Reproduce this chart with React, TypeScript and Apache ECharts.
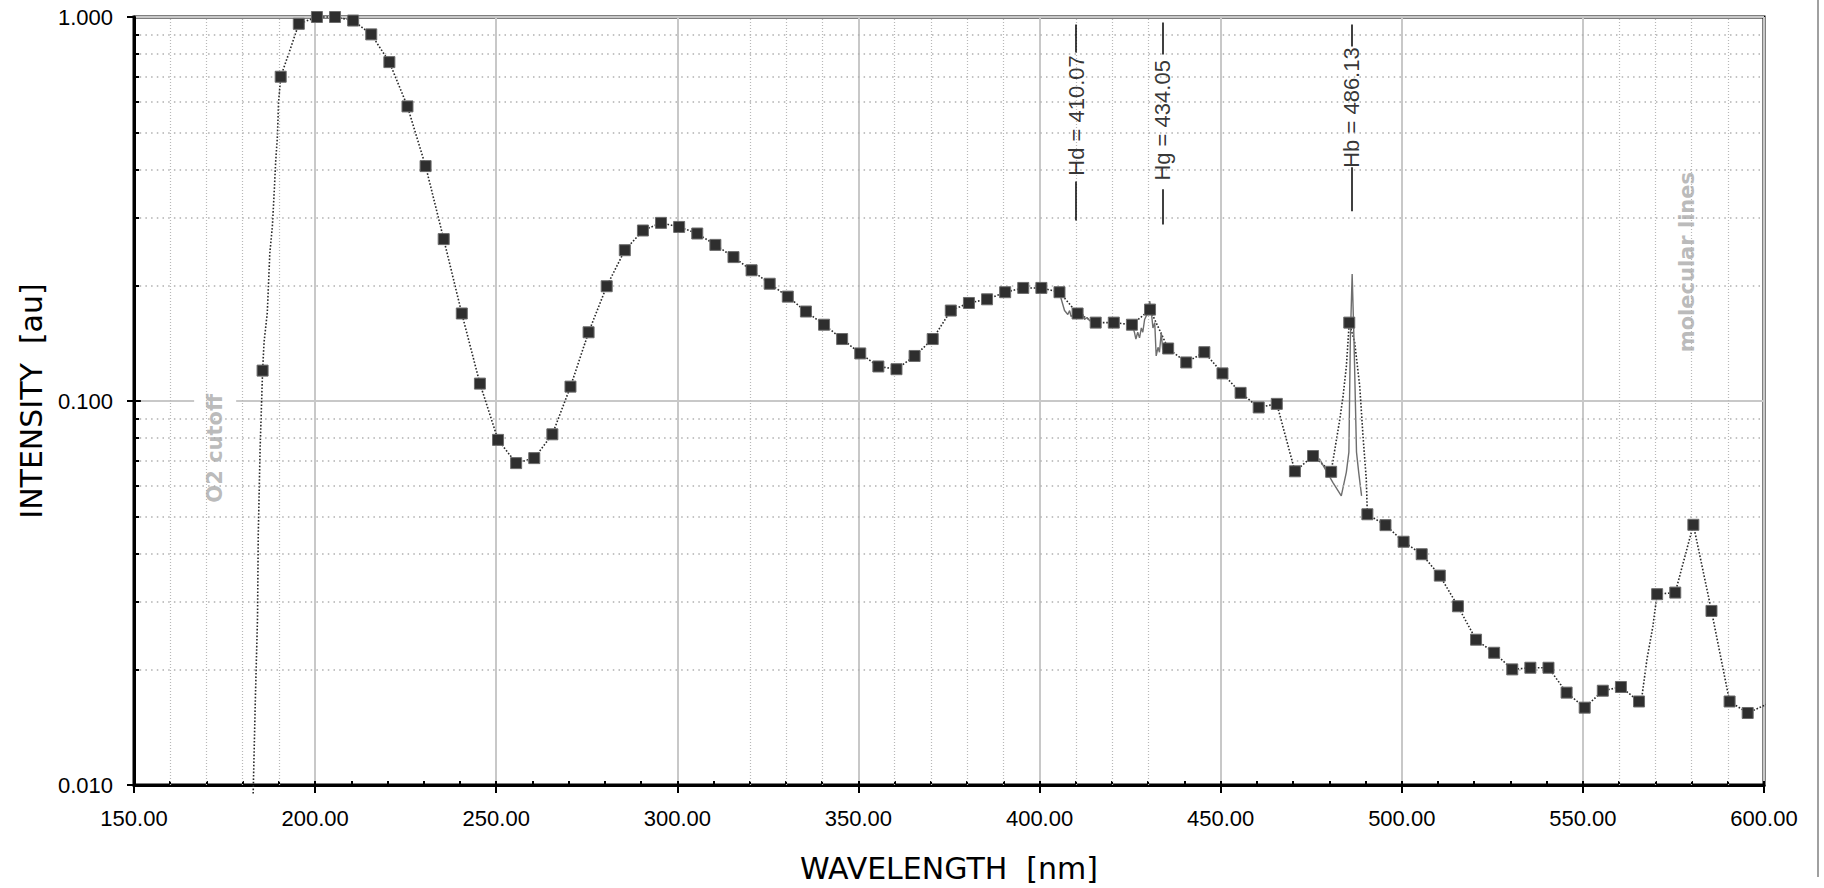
import React, { useEffect, useRef } from "react";
import * as echarts from "echarts";

// 5 nm bin values (square markers)
const binWavelengths = [
  185.5, 190.5, 195.5, 200.5, 205.5, 210.5, 215.5, 220.5, 225.5, 230.5,
  235.5, 240.5, 245.5, 250.5, 255.5, 260.5, 265.5, 270.5, 275.5, 280.5,
  285.5, 290.5, 295.5, 300.5, 305.5, 310.5, 315.5, 320.5, 325.5, 330.5,
  335.5, 340.5, 345.5, 350.5, 355.5, 360.5, 365.5, 370.5, 375.5, 380.5,
  385.5, 390.5, 395.5, 400.5, 405.5, 410.5, 415.5, 420.5, 425.5, 430.5,
  435.5, 440.5, 445.5, 450.5, 455.5, 460.5, 465.5, 470.5, 475.5, 480.5,
  485.5, 490.5, 495.5, 500.5, 505.5, 510.5, 515.5, 520.5, 525.5, 530.5,
  535.5, 540.5, 545.5, 550.5, 555.5, 560.5, 565.5, 570.5, 575.5, 580.5,
  585.5, 590.5, 595.5,
];
const binIntensity = [
  0.12, 0.699, 0.96, 1.0, 1.0, 0.979, 0.901, 0.763, 0.585, 0.409,
  0.264, 0.169, 0.111, 0.0792, 0.0689, 0.071, 0.0819, 0.109, 0.151, 0.199,
  0.247, 0.278, 0.291, 0.284, 0.273, 0.255, 0.237, 0.219, 0.202, 0.187,
  0.171, 0.158, 0.145, 0.133, 0.123, 0.121, 0.131, 0.145, 0.172, 0.18,
  0.184, 0.192, 0.197, 0.197, 0.192, 0.169, 0.16, 0.16, 0.158, 0.173,
  0.137, 0.126, 0.134, 0.118, 0.105, 0.0962, 0.0983, 0.0656, 0.0719, 0.0654,
  0.16, 0.0507, 0.0475, 0.043, 0.0399, 0.0351, 0.0292, 0.0239, 0.0221, 0.02,
  0.0202, 0.0202, 0.0174, 0.0159, 0.0176, 0.018, 0.0165, 0.0314, 0.0317, 0.0476,
  0.0284, 0.0165, 0.0154,
];

// extra points of the dense (dotted) spectrum
const cutoffWavelengths = [182.9, 183.5, 184.1, 184.3, 184.8, 185.9, 186.8, 187.5, 188.2, 188.7, 189.1, 189.6, 189.9, 192.8];
const cutoffIntensity = [0.0095, 0.0167, 0.0273, 0.0446, 0.0742, 0.142, 0.17, 0.243, 0.285, 0.349, 0.418, 0.49, 0.598, 0.807];
const hbEnvelopeWavelengths = [482.9, 483.8, 484.7, 487.0, 488.4, 489.3, 490.2];
const hbEnvelopeIntensity = [0.0897, 0.103, 0.123, 0.142, 0.109, 0.081, 0.0626];
const bandWavelengths = [566.3, 567.7, 569.3, 601.8];
const bandIntensity = [0.017, 0.0213, 0.0258, 0.0164];

// fine structure (solid thin line)
const hdFineWavelengths = [405.5, 406.0, 406.9, 407.8, 408.3, 408.7, 409.7, 410.5, 411.0, 412.0, 412.4, 413.1, 413.8, 415.5];
const hdFineIntensity = [0.192, 0.184, 0.172, 0.168, 0.172, 0.166, 0.168, 0.169, 0.166, 0.168, 0.163, 0.165, 0.162, 0.16];
const hgFineWavelengths = [425.5, 426.2, 426.6, 427.1, 427.6, 428.1, 428.5, 429.0, 429.9, 430.4, 430.8, 431.3, 431.8, 432.2, 432.7, 433.1, 433.6, 434.0, 434.5, 435.5];
const hgFineIntensity = [0.158, 0.151, 0.145, 0.151, 0.146, 0.155, 0.151, 0.163, 0.17, 0.182, 0.173, 0.155, 0.16, 0.131, 0.138, 0.134, 0.151, 0.136, 0.139, 0.137];
const hbFineWavelengths = [475.5, 477.3, 481.0, 483.3, 484.7, 485.4, 485.8, 486.3, 486.8, 487.5, 488.1, 488.9];
const hbFineIntensity = [0.0719, 0.0706, 0.0613, 0.0566, 0.0653, 0.0736, 0.145, 0.214, 0.145, 0.0736, 0.0653, 0.0566];

// hydrogen line markers: line from top to bottom, broken where the label sits
const lineNames = ["Hd", "Hg", "Hb"];
const lineWavelengths = [410.07, 434.05, 486.13];
const lineTop = [0.956, 0.967, 0.956];
const lineBottom = [0.295, 0.288, 0.312];
const lineGapTop = [0.808, 0.799, 0.838];
const lineGapBottom = [0.373, 0.356, 0.406];
const lineLabelAt = [0.554, 0.538, 0.581];

// notes (rotated grey texts) and their white boxes
const noteTexts = ["O2 cutoff", "molecular lines"];
const noteWavelengths = [172.4, 578.7];
const noteIntensity = [0.0753, 0.23];
const noteBoxLeft = [166.6, 572.1];
const noteBoxRight = [178.2, 584.3];
const noteBoxTop = [0.112, 0.396];
const noteBoxBottom = [0.0523, 0.123];

// axis ticks / grid
const xMajorTicks = [150, 200, 250, 300, 350, 400, 450, 500, 550, 600];
const yMajorTicks = [0.01, 0.1, 1];
const yMinorTicks = [0.02, 0.03, 0.04, 0.05, 0.06, 0.07, 0.08, 0.09, 0.2, 0.3, 0.4, 0.5, 0.6, 0.7, 0.8, 0.9];
const xMinorGrid = [160, 170, 180, 190, 320, 330, 340, 360, 370, 380, 390, 410, 420, 430, 560, 570, 580, 590];

const zip = (xs: number[], ys: number[]) => xs.map((x, i) => [x, ys[i]]);

export default function App() {
  const ref = useRef<HTMLDivElement>(null);

  useEffect(() => {
    if (!ref.current) return;
    const chart = echarts.init(ref.current, undefined, { renderer: "svg" });

    const spectrum = [
      ...zip(binWavelengths, binIntensity),
      ...zip(cutoffWavelengths, cutoffIntensity),
      ...zip(hbEnvelopeWavelengths, hbEnvelopeIntensity),
      ...zip(bandWavelengths, bandIntensity),
    ].sort((a, b) => a[0] - b[0]);

    const fineStyle = { color: "#6e6e6e", width: 1.4 };
    const fineSeries = [
      zip(hdFineWavelengths, hdFineIntensity),
      zip(hgFineWavelengths, hgFineIntensity),
      zip(hbFineWavelengths, hbFineIntensity),
    ].map((d, i) => ({
      name: "fine" + i,
      type: "line",
      data: d,
      symbol: "none",
      silent: true,
      z: 4,
      lineStyle: fineStyle,
    }));

    const textSeries = (name: string, data: any[], font: any) => ({
      name,
      type: "scatter",
      symbol: "rect",
      symbolSize: 2,
      silent: true,
      z: 6,
      itemStyle: { color: "rgba(0,0,0,0)" },
      label: {
        show: true,
        position: "inside",
        rotate: 90,
        formatter: "{t|{b}}",
        ...font,
        rich: { t: { ...font } },
      },
      data,
    });

    const halfBox = 6.1;

    const option: any = {
      animation: false,
      backgroundColor: "#ffffff",
      textStyle: { fontFamily: "Liberation Sans" },
      grid: {
        left: 134,
        right: 60,
        top: 17,
        bottom: 102,
        show: true,
        borderColor: "#000",
        borderWidth: 3,
        backgroundColor: "transparent",
      },
      graphic: [
        { type: "rect", shape: { x: 1817, y: 0, width: 2, height: 877 }, style: { fill: "#a0a0a0" }, silent: true },
      ],
      xAxis: [
        {
          type: "value",
          min: xMajorTicks[0],
          max: xMajorTicks[xMajorTicks.length - 1],
          interval: 50,
          position: "bottom",
          name: "WAVELENGTH  [nm]",
          nameLocation: "middle",
          nameGap: 68,
          nameTextStyle: { fontFamily: "DejaVu Sans", fontSize: 30, color: "#000" },
          axisLine: { show: true, onZero: false, lineStyle: { color: "#000", width: 3 } },
          axisTick: { show: true, inside: false, length: 8, lineStyle: { color: "#000", width: 2 } },
          axisLabel: { formatter: (v: number) => v.toFixed(2), fontSize: 22, color: "#000", margin: 22 },
          splitLine: { show: true, lineStyle: { color: "#c8c8c8", width: 2 } },
        },
        {
          type: "value",
          min: 150,
          max: 600,
          interval: 10,
          position: "bottom",
          axisLine: { show: false },
          axisTick: { show: true, inside: true, length: 4, lineStyle: { color: "#000", width: 2 } },
          axisLabel: { show: false },
          splitLine: { show: false },
        },
      ],
      yAxis: {
        type: "log",
        logBase: 10,
        min: yMajorTicks[0],
        max: yMajorTicks[yMajorTicks.length - 1],
        name: "INTENSITY  [au]",
        nameLocation: "middle",
        nameGap: 88,
        nameTextStyle: { fontFamily: "DejaVu Sans", fontSize: 30, color: "#000" },
        axisLine: { show: true, onZero: false, lineStyle: { color: "#000", width: 3 } },
        axisTick: { show: true, inside: false, length: 7, lineStyle: { color: "#000", width: 2 } },
        axisLabel: { formatter: (v: number) => v.toFixed(3), fontSize: 22, color: "#000", margin: 21 },
        splitLine: { show: true, lineStyle: { color: "#c8c8c8", width: 2 } },
      },
      series: [
        {
          name: "minorGrid",
          type: "line",
          data: [],
          silent: true,
          z: 1,
          markLine: {
            silent: true,
            symbol: ["none", "none"],
            label: { show: false },
            animation: false,
            data: [
              ...yMinorTicks.map((v) => ({
                yAxis: v,
                lineStyle: { color: "#b0b0b0", width: 1.5, type: [1.5, 4.2] },
              })),
              ...xMinorGrid.map((x) => ({
                xAxis: x,
                lineStyle: { color: "#b8b8b8", width: 1.2, type: [1, 2] },
              })),
            ],
          },
        },
        {
          name: "labelBoxes",
          type: "line",
          data: [],
          silent: true,
          z: 2,
          markArea: {
            silent: true,
            itemStyle: { color: "#ffffff" },
            label: { show: false },
            data: [
              ...lineWavelengths.map((w, i) => [
                { coord: [w - halfBox, lineTop[i]] },
                { coord: [w + halfBox, lineBottom[i]] },
              ]),
              ...noteTexts.map((_, i) => [
                { coord: [noteBoxLeft[i], noteBoxTop[i]] },
                { coord: [noteBoxRight[i], noteBoxBottom[i]] },
              ]),
            ],
          },
        },
        {
          name: "lineMarkers",
          type: "line",
          data: [],
          silent: true,
          z: 3,
          markLine: {
            silent: true,
            symbol: ["none", "none"],
            label: { show: false },
            lineStyle: { color: "#000", width: 1.5, type: "solid" },
            data: [
              ...lineWavelengths.map((w, i) => [
                { coord: [w, lineTop[i]] },
                { coord: [w, lineGapTop[i]] },
              ]),
              ...lineWavelengths.map((w, i) => [
                { coord: [w, lineGapBottom[i]] },
                { coord: [w, lineBottom[i]] },
              ]),
            ],
          },
        },
        {
          name: "spectrum",
          type: "line",
          data: spectrum,
          symbol: "none",
          clip: false,
          silent: true,
          z: 4,
          lineStyle: { color: "#2a2a2a", width: 1.6, type: [1.6, 1.8] },
        },
        ...fineSeries,
        {
          name: "bins",
          type: "scatter",
          data: zip(binWavelengths, binIntensity),
          symbol: "rect",
          symbolSize: 11,
          silent: true,
          z: 5,
          itemStyle: { color: "#2e2e2e", borderColor: "#6c6c6c", borderWidth: 1, opacity: 1 },
        },
        textSeries(
          "lineLabels",
          lineNames.map((n, i) => ({
            name: `${n} = ${lineWavelengths[i].toFixed(2)}`,
            value: [lineWavelengths[i], lineLabelAt[i]],
          })),
          { fontSize: 22, color: "#000000", fontFamily: "Liberation Sans" }
        ),
        textSeries(
          "notes",
          noteTexts.map((t, i) => ({ name: t, value: [noteWavelengths[i], noteIntensity[i]] })),
          { fontSize: 21, fontWeight: "bold", color: "#a9a9a9", fontFamily: "DejaVu Sans" }
        ),
        {
          name: "innerTicks",
          type: "line",
          data: [],
          silent: true,
          z: 7,
          markLine: {
            silent: true,
            symbol: ["none", "none"],
            label: { show: false },
            lineStyle: { color: "#000", width: 2, type: "solid" },
            data: [
              ...yMinorTicks.map((v) => [{ coord: [150, v] }, { coord: [151.4, v] }]),
              [{ coord: [150, 0.1] }, { coord: [151.9, 0.1] }],
            ],
          },
        },
      ],
    };

    chart.setOption(option);
    return () => chart.dispose();
  }, []);

  return (
    <div
      ref={ref}
      style={{ position: "absolute", left: 0, top: 0, width: 1824, height: 888, background: "#fff" }}
    />
  );
}
